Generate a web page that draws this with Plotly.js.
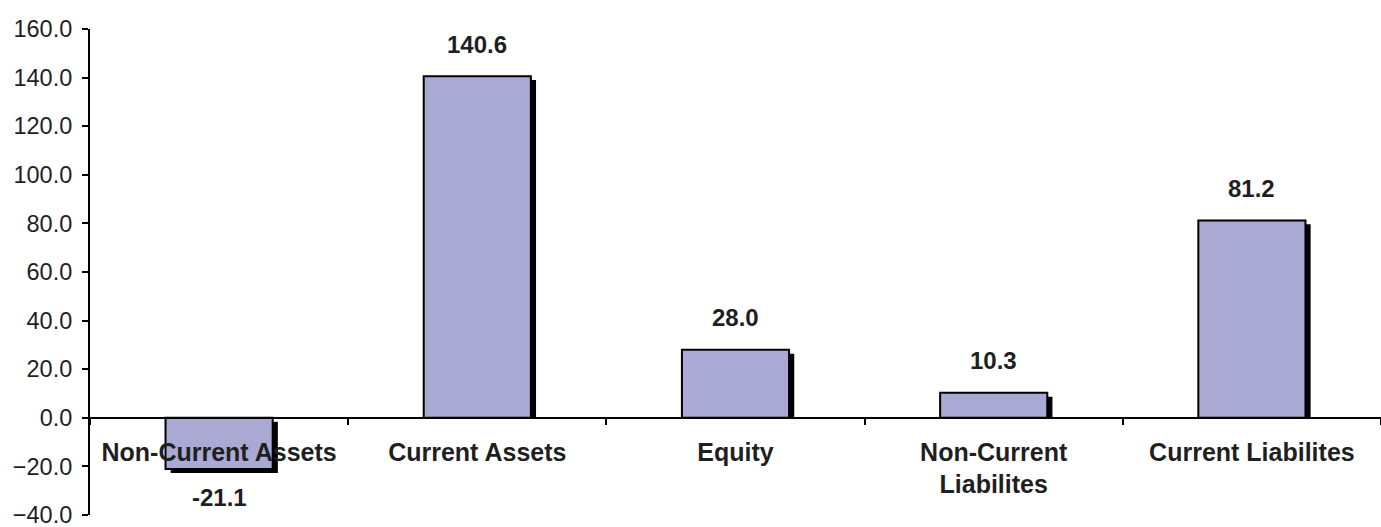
<!DOCTYPE html>
<html>
<head>
<meta charset="utf-8">
<script src="https://cdn.plot.ly/plotly-3.0.1.min.js"></script>
<style>html,body{margin:0;padding:0;background:#fff;}#chart{width:1381px;height:527px;}</style>
</head>
<body>
<div id="chart"></div>
<script>
const categories = ["Non-Current Assets", "Current Assets", "Equity", "Non-Current Liabilites", "Current Liabilites"];
const tickLabels = ["Non-Current Assets", "Current Assets", "Equity", "Non-Current<br>Liabilites", "Current Liabilites"];
const values = [-21.1, 140.6, 28.0, 10.3, 81.2];
const yTicks = [-40, -20, 0, 20, 40, 60, 80, 100, 120, 140, 160];

const barWidth = 0.415;
const shadowDX = 0.02;   // category units
const shadowDY = 1.6;    // data units
const fontFam = "Liberation Sans, Arial, sans-serif";
const textCol = "#1f1f1f";

const shadowY = values.map(v => v > 0 ? v - shadowDY : v);
const shadowBase = values.map(v => v > 0 ? 0 : -shadowDY);

const shadow = {
  type: "bar", x: categories, y: shadowY, base: shadowBase,
  width: barWidth, offset: -barWidth / 2 + shadowDX,
  marker: {color: "#000", line: {width: 0}},
  hoverinfo: "skip", showlegend: false
};
const bars = {
  type: "bar", x: categories, y: values,
  width: barWidth, offset: -barWidth / 2,
  marker: {color: "#a9a9d3", line: {color: "#000", width: 2}},
  showlegend: false
};

const annotations = values.map((v, i) => ({
  x: categories[i], y: v, xref: "x", yref: "y",
  text: v.toFixed(1), showarrow: false,
  yanchor: "middle", yshift: v >= 0 ? 32 : -28,
  font: {family: fontFam, size: 24, color: textCol, weight: "bold"}
}));

const layout = {
  width: 1381, height: 527,
  margin: {l: 90, r: 0, t: 29, b: 12},
  paper_bgcolor: "#fff", plot_bgcolor: "#fff",
  barmode: "overlay",
  font: {family: fontFam, color: textCol},
  xaxis: {
    type: "category",
    tickvals: categories, ticktext: tickLabels,
    anchor: "free", position: 0.2,
    showline: true, linecolor: "#000", linewidth: 2,
    ticks: "outside", ticklen: 6, tickwidth: 2, tickcolor: "#000",
    tickson: "boundaries",
    showgrid: false, zeroline: false,
    ticklabelstandoff: 12,
    tickfont: {family: fontFam, size: 25, color: textCol, weight: "bold"},
    range: [-0.5, 4.5], fixedrange: true
  },
  yaxis: {
    range: [-40, 160],
    tickvals: yTicks, tickformat: ".1f",
    showline: true, linecolor: "#000", linewidth: 2,
    ticks: "outside", ticklen: 6, tickwidth: 2, tickcolor: "#000",
    showgrid: false, zeroline: false,
    ticklabelstandoff: 5,
    ticklabeloverflow: "allow",
    tickfont: {family: fontFam, size: 23.5, color: textCol}
  },
  annotations: annotations
};

Plotly.newPlot("chart", [shadow, bars], layout, {displayModeBar: false, staticPlot: true});
</script>
</body>
</html>
